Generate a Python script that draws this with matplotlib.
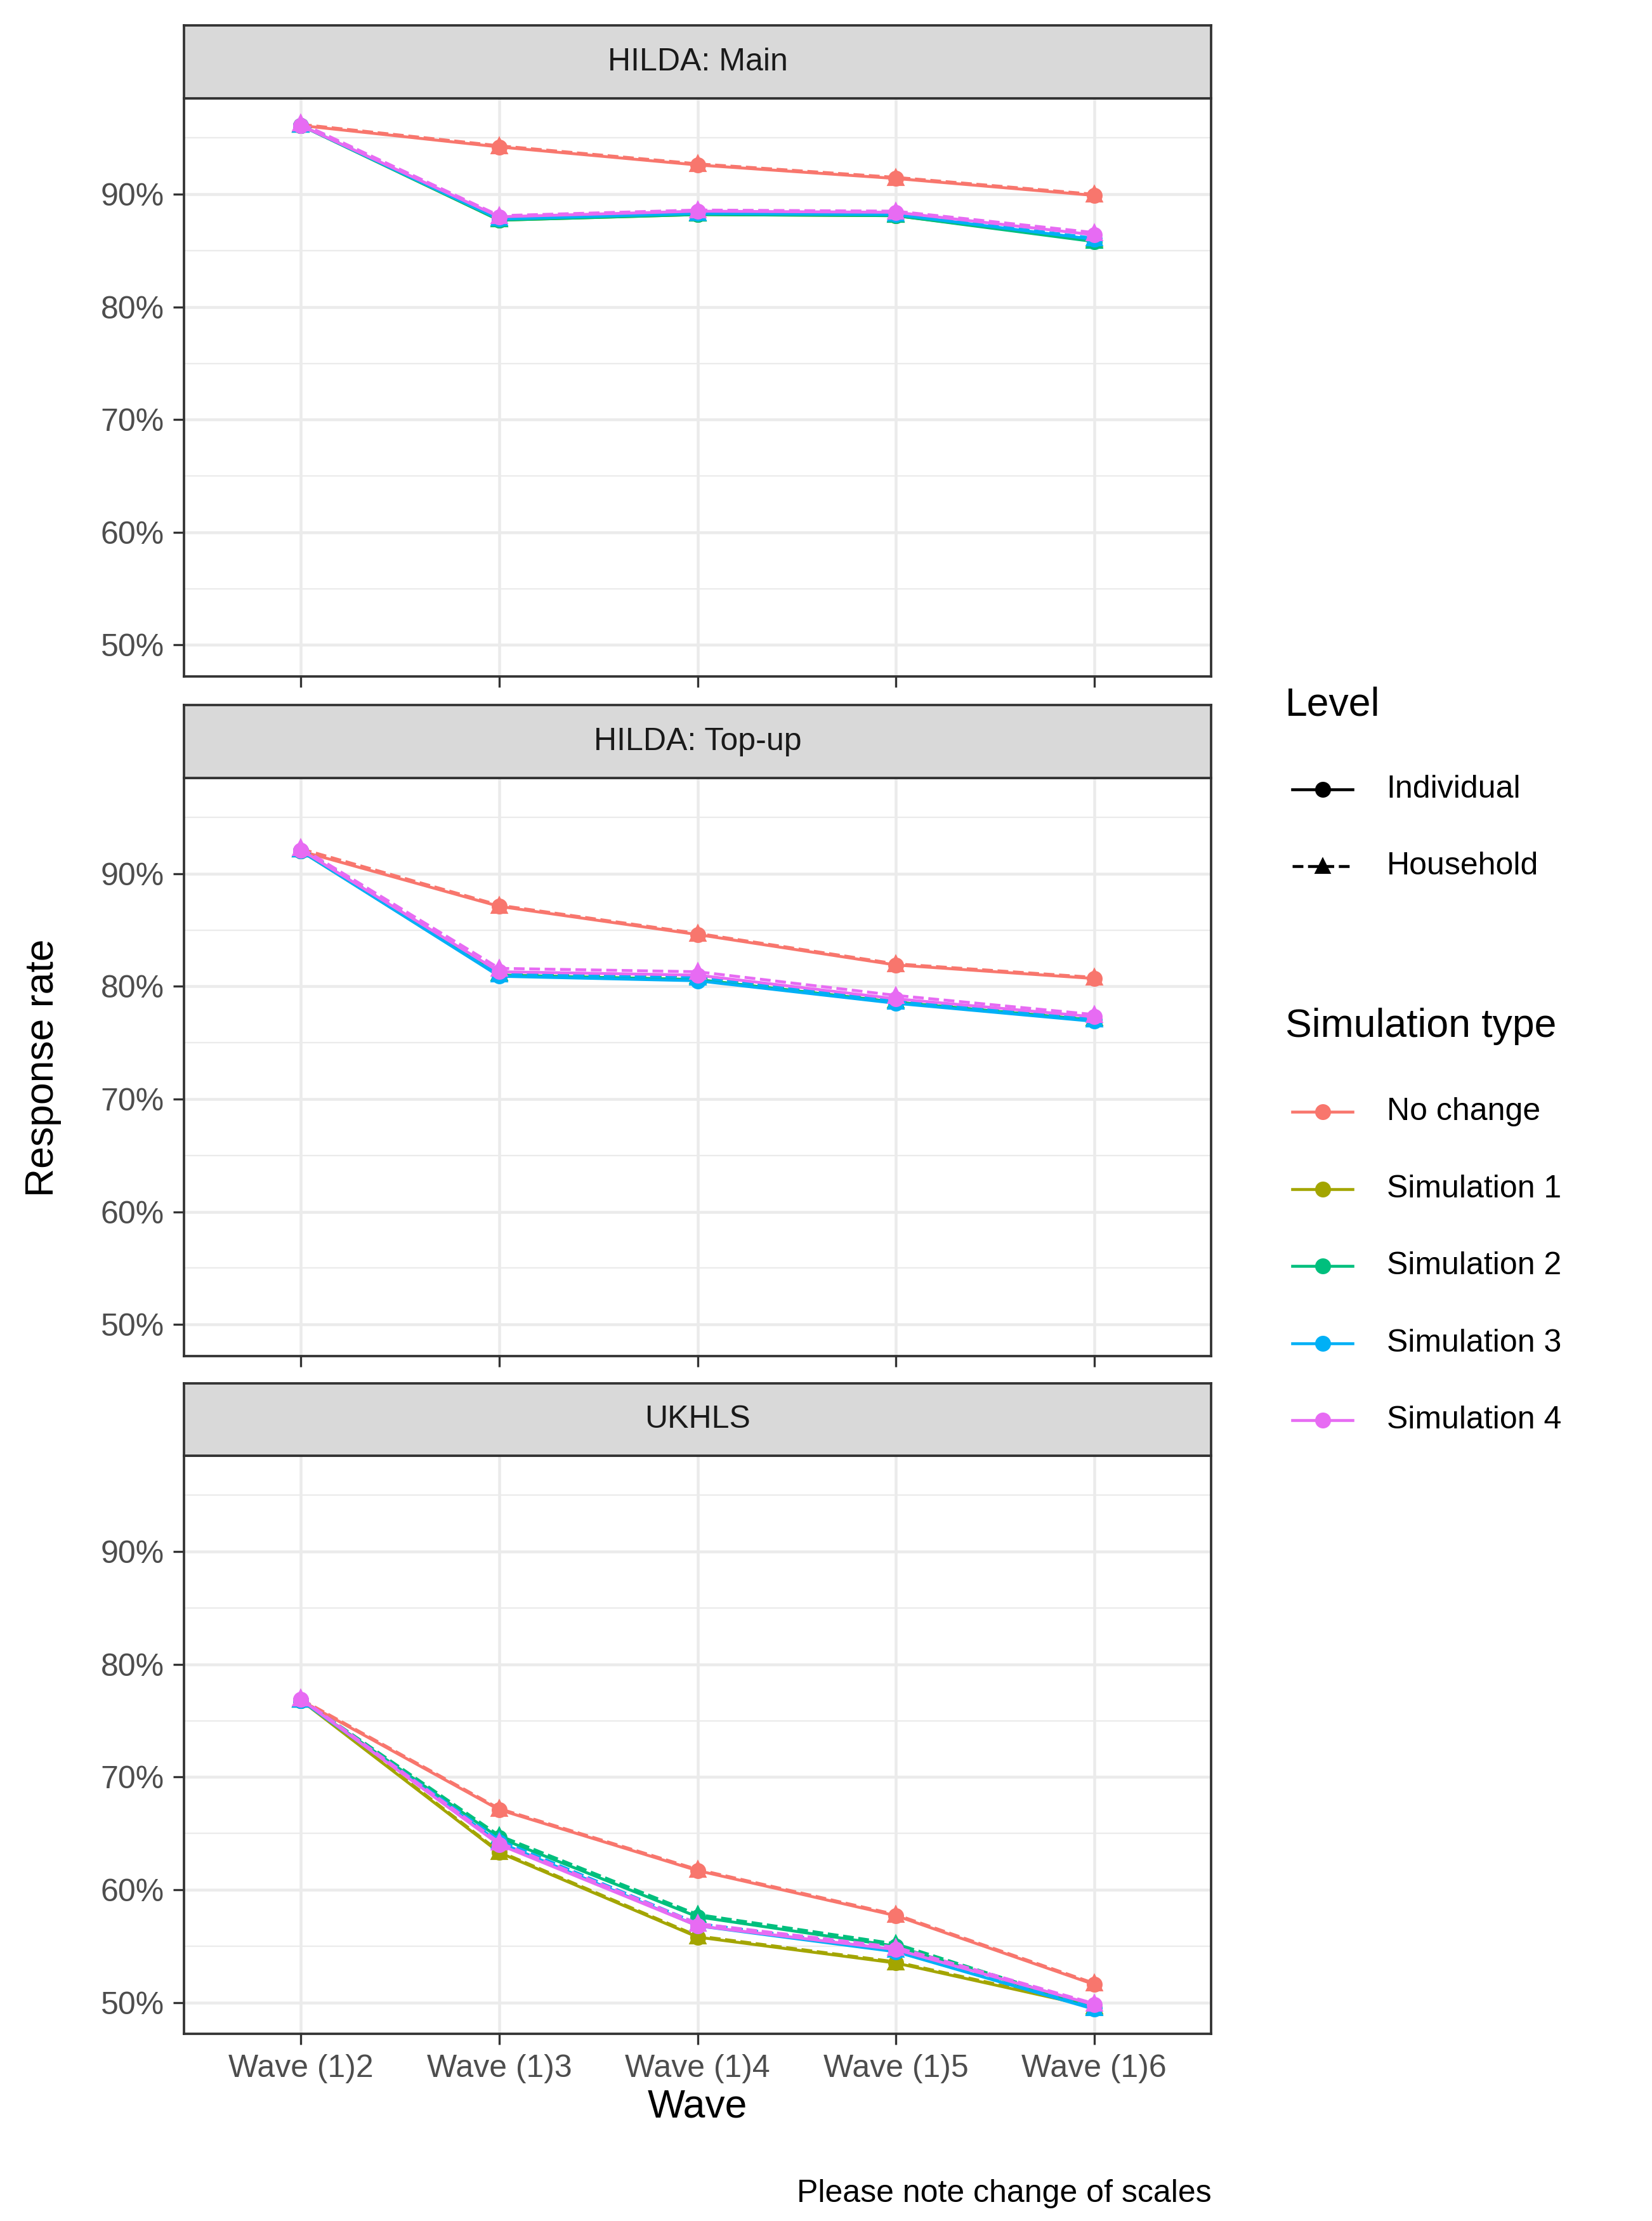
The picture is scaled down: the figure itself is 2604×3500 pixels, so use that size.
import matplotlib
matplotlib.use("Agg")
import matplotlib.pyplot as plt
from matplotlib.lines import Line2D

plt.rcParams['font.family'] = ['Liberation Sans', 'DejaVu Sans']

waves = ['Wave (1)2', 'Wave (1)3', 'Wave (1)4', 'Wave (1)5', 'Wave (1)6']
panels = ['HILDA: Main', 'HILDA: Top-up', 'UKHLS']
sims = ['No change', 'Simulation 1', 'Simulation 2', 'Simulation 3', 'Simulation 4']
colors = ['#F8766D', '#A3A500', '#00BF7D', '#00B0F6', '#E76BF3']

# individual level response rates (%)
ind = {
    'HILDA: Main': [
        [96.1, 94.2, 92.6, 91.4, 89.9],
        [96.1, 87.7, 88.2, 88.1, 85.9],
        [96.1, 87.7, 88.2, 88.1, 85.8],
        [96.1, 87.8, 88.3, 88.2, 86.0],
        [96.1, 88.0, 88.5, 88.4, 86.4],
    ],
    'HILDA: Top-up': [
        [92.0, 87.1, 84.6, 81.9, 80.7],
        [92.0, 81.0, 80.6, 78.6, 77.0],
        [92.0, 81.0, 80.6, 78.6, 77.0],
        [92.0, 80.9, 80.5, 78.5, 76.9],
        [92.1, 81.3, 81.0, 78.9, 77.3],
    ],
    'UKHLS': [
        [76.8, 67.1, 61.7, 57.7, 51.6],
        [76.8, 63.3, 55.8, 53.5, 49.6],
        [76.8, 64.6, 57.6, 55.0, 49.5],
        [76.8, 64.2, 56.8, 54.5, 49.4],
        [76.9, 64.0, 56.8, 54.7, 49.8],
    ],
}
# household level response rates (%)
hh = {
    'HILDA: Main': [
        [96.2, 94.3, 92.7, 91.5, 90.0],
        [96.2, 87.8, 88.3, 88.2, 86.0],
        [96.2, 87.8, 88.3, 88.2, 85.9],
        [96.2, 87.9, 88.4, 88.3, 86.1],
        [96.3, 88.1, 88.6, 88.5, 86.6],
    ],
    'HILDA: Top-up': [
        [92.2, 87.2, 84.7, 82.0, 80.8],
        [92.2, 81.2, 80.9, 78.8, 77.2],
        [92.2, 81.2, 80.9, 78.8, 77.2],
        [92.2, 81.1, 80.8, 78.7, 77.1],
        [92.3, 81.6, 81.3, 79.2, 77.5],
    ],
    'UKHLS': [
        [76.9, 67.2, 61.8, 57.8, 51.7],
        [76.9, 63.4, 55.9, 53.6, 49.7],
        [76.9, 64.8, 57.8, 55.2, 49.6],
        [76.9, 64.4, 57.0, 54.7, 49.5],
        [77.0, 64.2, 57.0, 54.9, 49.9],
    ],
}

W, H = 1158.0, 1556.0
fig = plt.figure(figsize=(2604 / 300, 3500 / 300), dpi=300)
x = list(range(1, 6))
tops = [69, 545, 1020]
for i, name in enumerate(panels):
    t = tops[i]
    ax = fig.add_axes([129 / W, 1 - (t + 405) / H, 720 / W, 405 / H])
    ax.set_xlim(0.41, 5.59)
    ax.set_ylim(47.2, 98.5)
    ax.set_yticks([50, 60, 70, 80, 90])
    ax.set_yticks([55, 65, 75, 85, 95], minor=True)
    ax.set_yticklabels(['50%', '60%', '70%', '80%', '90%'])
    ax.set_xticks(x)
    ax.grid(True, which='major', color='#EBEBEB', lw=1.1)
    ax.grid(True, which='minor', axis='y', color='#EBEBEB', lw=0.55)
    ax.set_axisbelow(True)
    ax.tick_params(which='both', length=4, color='#333333', labelsize=12, labelcolor='#4D4D4D', width=0.8)
    ax.tick_params(which='minor', length=0)
    for s in ax.spines.values():
        s.set_color('#333333')
        s.set_linewidth(0.9)
    if i < 2:
        ax.set_xticklabels([])
    else:
        ax.set_xticklabels(waves)
        ax.set_xlabel('Wave', fontsize=15, labelpad=2)
    for k in range(len(sims)):
        ax.plot(x, ind[name][k], color=colors[k], lw=1.1, marker='o', ms=5)
        ax.plot(x, hh[name][k], color=colors[k], lw=1.1, ls='--', marker='^', ms=5.5)
    st = fig.add_axes([129 / W, 1 - (t) / H, 720 / W, 51 / H])
    st.set_facecolor('#D9D9D9')
    st.set_xticks([])
    st.set_yticks([])
    for s in st.spines.values():
        s.set_color('#333333')
        s.set_linewidth(0.9)
    st.text(0.5, 0.5, name, ha='center', va='center', fontsize=12, color='#1A1A1A')

fig.text(30 / W, 1 - 748 / H, 'Response rate', rotation=90, ha='center', va='center', fontsize=15)
fig.text(849 / W, 1 - 1537 / H, 'Please note change of scales', ha='right', va='center', fontsize=12)

# legends
fig.text(901 / W, 1 - 494 / H, 'Level', fontsize=15, va='center')
fig.text(901 / W, 1 - 719 / H, 'Simulation type', fontsize=15, va='center')
lvl = [('Individual', '-', 'o', 553), ('Household', '--', '^', 607)]
for lab, ls, mk, yy in lvl:
    fy = 1 - yy / H
    fig.add_artist(Line2D([906 / W, 948 / W], [fy, fy], color='black', ls=ls, lw=1.1))
    fig.add_artist(Line2D([927 / W], [fy], color='black', marker=mk, ms=5))
    fig.text(972 / W, fy, lab, fontsize=12, va='center')
for k, lab in enumerate(sims):
    fy = 1 - (779 + 54 * k) / H
    fig.add_artist(Line2D([906 / W, 948 / W], [fy, fy], color=colors[k], lw=1.1))
    fig.add_artist(Line2D([927 / W], [fy], color=colors[k], marker='o', ms=5))
    fig.text(972 / W, fy, lab, fontsize=12, va='center')

fig.savefig('out.png', dpi=300)
